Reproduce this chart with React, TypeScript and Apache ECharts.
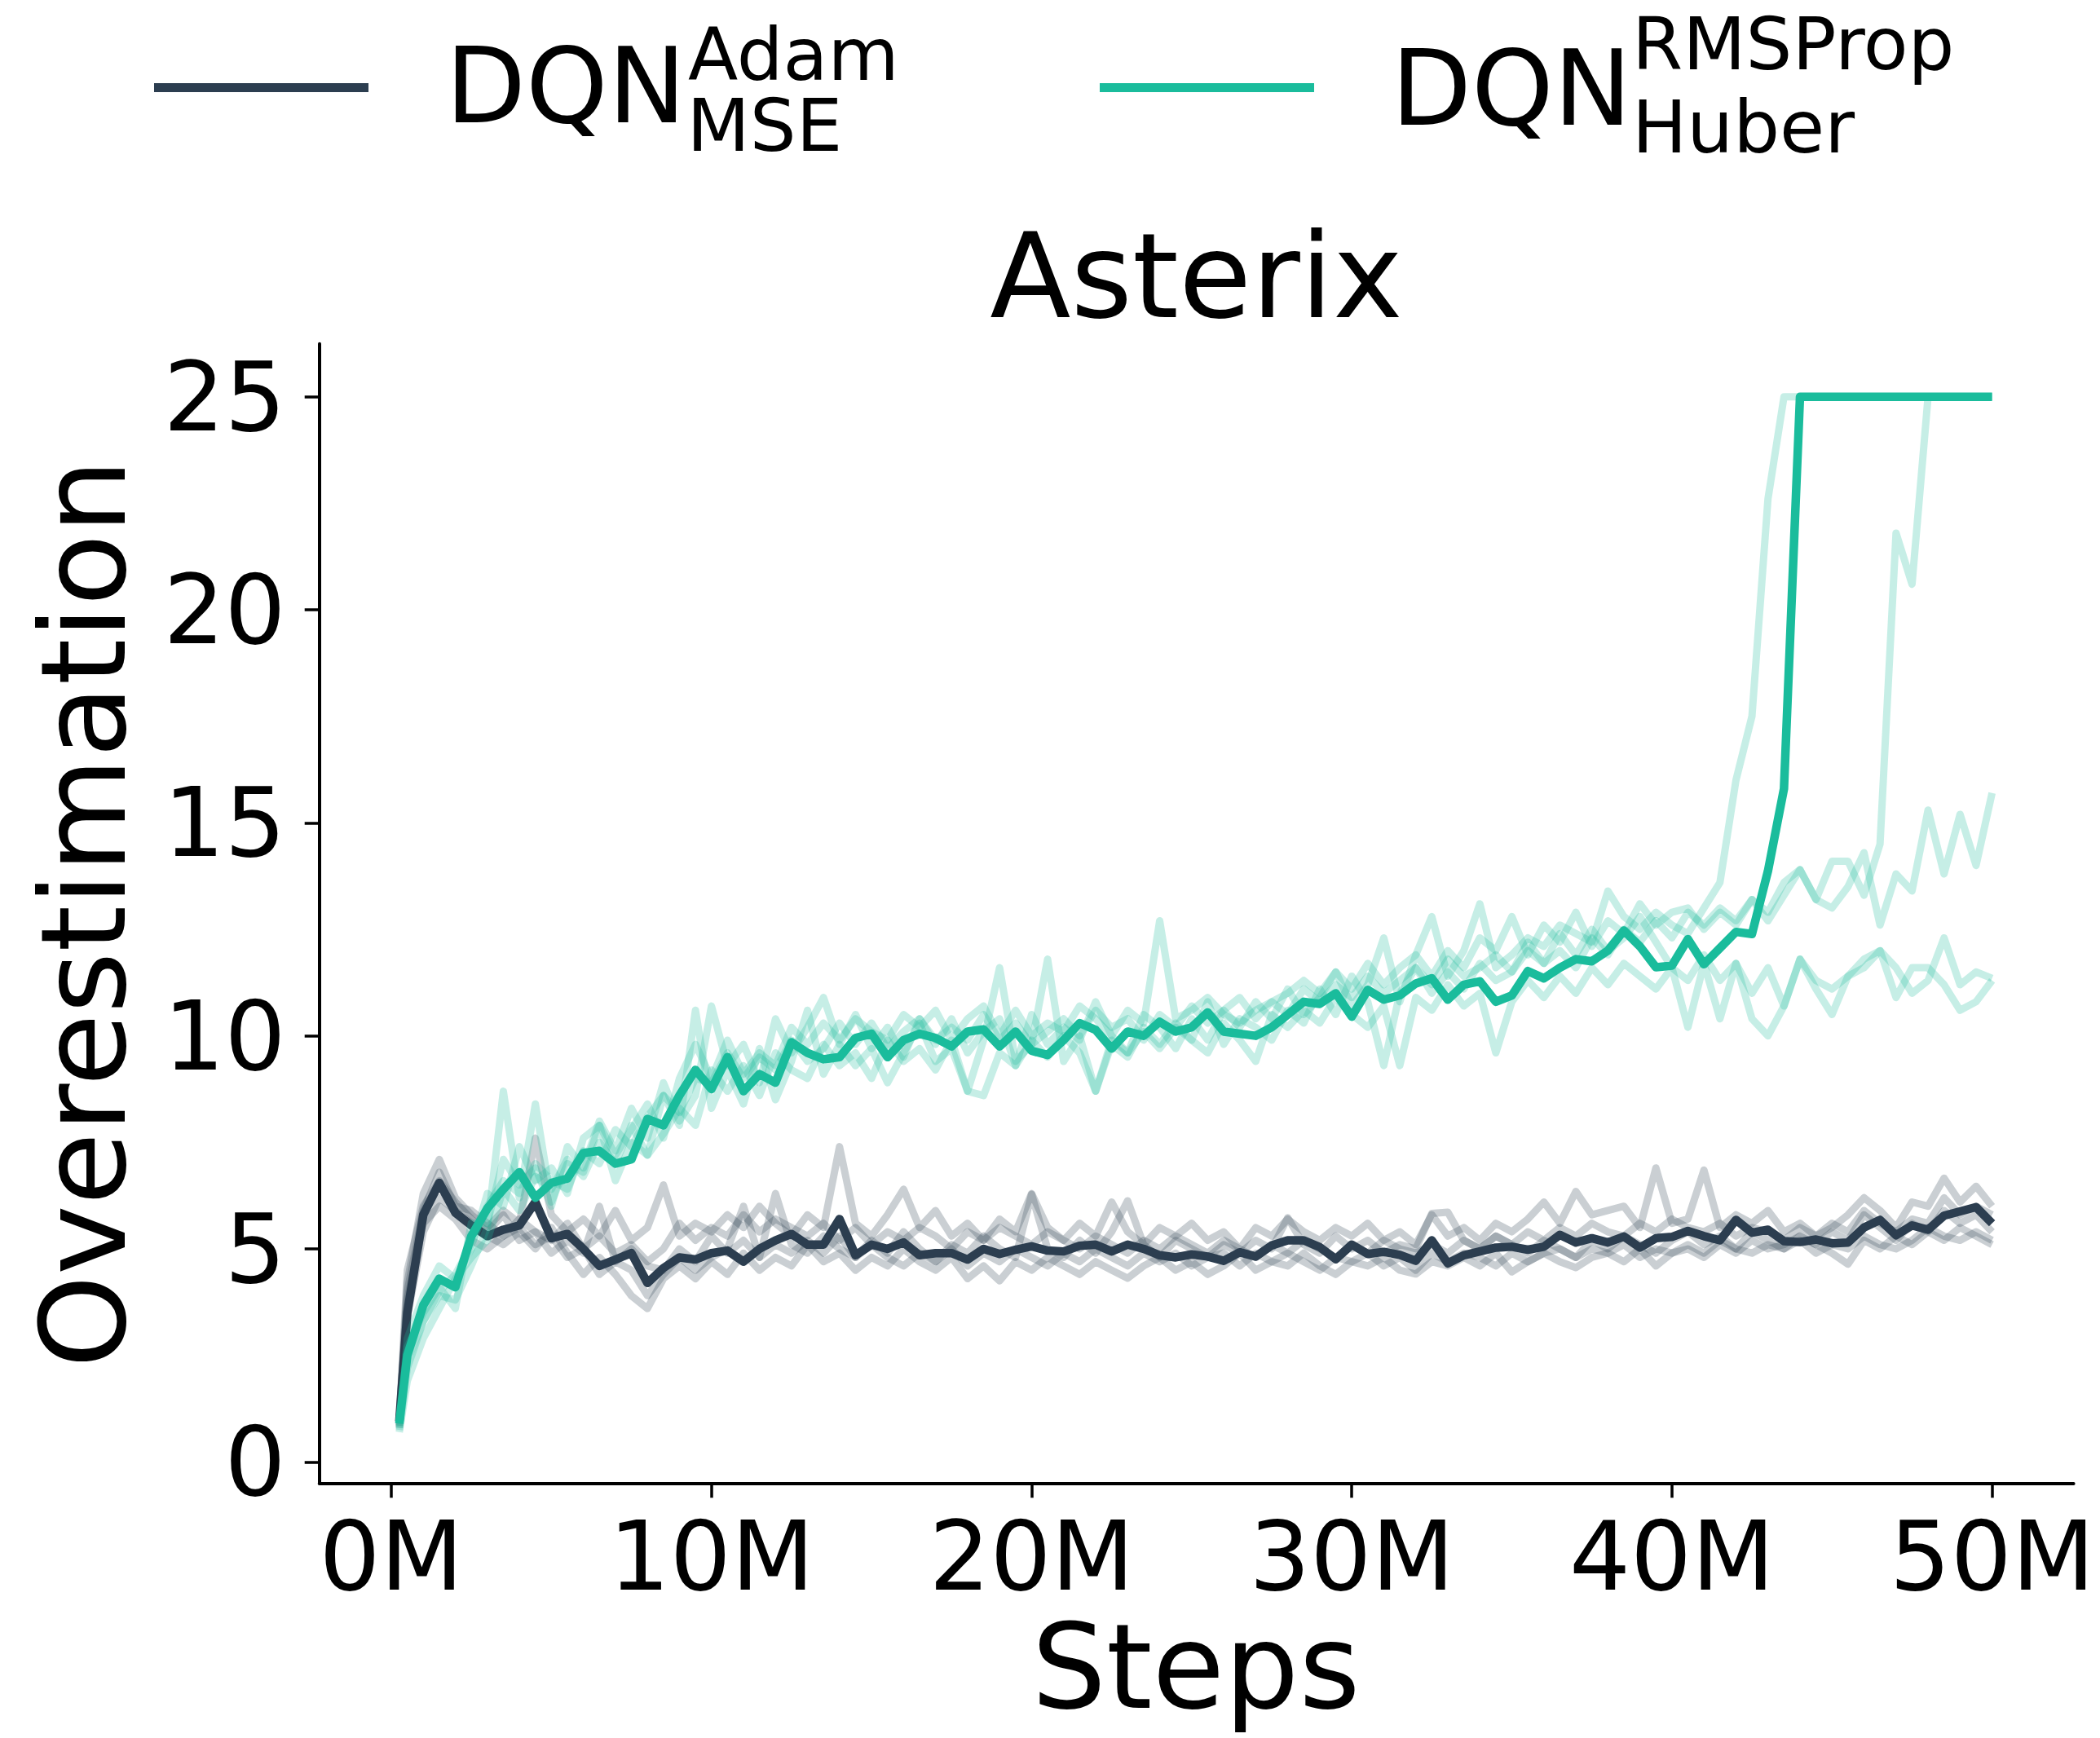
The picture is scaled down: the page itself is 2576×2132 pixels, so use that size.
import React, { useEffect, useRef } from "react";
import * as echarts from "echarts";

// ---------- data ----------
const STEPS_M: number[] = [0.25, ...Array.from({ length: 100 }, (_, i) => (i + 1) * 0.5)];
const X_TICKS = [0, 10, 20, 30, 40, 50];
const Y_TICKS = [0, 5, 10, 15, 20, 25];

const DARK_MEAN = [
  0.95, 3.5, 5.8, 6.55, 5.85, 5.55, 5.3, 5.45, 5.55, 6.1,
  5.25, 5.35, 5.0, 4.6, 4.75, 4.9, 4.2, 4.55, 4.8, 4.75,
  4.9, 4.96, 4.7, 5.0, 5.2, 5.35, 5.1, 5.1, 5.7, 4.85,
  5.1, 5.0, 5.15, 4.85, 4.9, 4.9, 4.75, 5.0, 4.88, 4.98,
  5.06, 4.96, 4.94, 5.07, 5.1, 4.94, 5.1, 5.0, 4.85, 4.8,
  4.87, 4.82, 4.72, 4.92, 4.82, 5.08, 5.2, 5.2, 5.04, 4.76,
  5.1, 4.88, 4.93, 4.86, 4.72, 5.2, 4.66, 4.85, 4.94, 5.03,
  5.05, 4.98, 5.05, 5.33, 5.15, 5.25, 5.15, 5.29, 5.03, 5.25,
  5.28, 5.42, 5.3, 5.2, 5.68, 5.38, 5.45, 5.18, 5.16, 5.22,
  5.13, 5.15, 5.5, 5.68, 5.32, 5.55, 5.45, 5.78, 5.88, 5.98,
  5.6,
];
const DARK_SEED_1 = [
  0.9, 4.2, 6.3, 7.1, 6.2, 5.8, 5.5, 5.9, 5.6, 7.6,
  5.8, 5.4, 5.7, 5.3, 5.9, 5.2, 5.5, 6.5, 5.3, 5.6,
  5.4, 5.8, 5.5, 6.0, 5.6, 5.3, 5.8, 5.5, 7.4, 5.6,
  5.3, 5.8, 6.4, 5.5, 5.9, 5.3, 5.6, 5.2, 5.7, 5.4,
  6.3, 5.5, 5.2, 5.6, 5.3, 6.1, 5.4, 5.1, 5.5, 5.3,
  5.6, 5.2, 5.4, 5.0, 5.5, 5.3, 5.7, 5.4, 5.2, 5.5,
  5.3, 5.6, 5.2, 5.4, 5.1, 5.8, 5.3, 5.5, 5.2, 5.6,
  5.4, 5.7, 6.1, 5.6, 6.35, 5.8, 5.9, 6.0, 5.5, 6.9,
  5.6, 5.7, 6.85, 5.5, 5.8, 5.6, 5.9, 5.4, 5.6, 5.3,
  5.5, 5.8, 6.2, 5.9, 5.5, 6.1, 6.0, 6.66, 6.1, 6.47,
  6.0,
];
const DARK_SEED_2 = [
  0.85, 3.4, 5.4, 6.2, 5.9, 5.6, 5.3, 5.1, 5.4, 5.0,
  5.5, 4.9, 4.4, 4.8, 4.4, 3.9, 3.6, 4.3, 4.6, 4.3,
  4.7, 4.4, 4.9, 4.5, 4.8, 4.6, 5.1, 4.7, 4.9, 4.5,
  4.8, 4.6, 5.0, 4.7, 4.5, 4.8, 4.3, 4.6, 4.25, 4.7,
  4.5, 4.8, 4.6, 4.4, 4.7, 4.5, 4.31, 4.6, 4.8, 4.5,
  4.7, 4.4, 4.6, 4.9, 4.5, 4.7, 4.6, 4.9, 4.6, 4.4,
  4.7, 4.6, 4.8, 4.5, 4.41, 4.7, 4.6, 4.8, 4.6, 4.9,
  4.46, 4.7, 4.9, 4.7, 4.56, 4.8, 4.9, 4.7, 5.0, 4.6,
  4.9, 5.0, 4.8, 5.1, 4.9, 5.2, 5.0, 5.1, 5.3, 5.1,
  4.9, 4.64, 5.2, 5.0, 5.3, 5.1, 5.4, 5.2, 5.5, 5.3,
  5.1,
];
const DARK_SEED_3 = [
  1.0, 4.5, 6.0, 6.6, 6.1, 5.7, 5.4, 5.8, 5.2, 5.4,
  4.9, 5.2, 4.9, 6.0, 4.7, 5.0, 4.6, 4.5, 5.0, 4.7,
  5.3, 4.9, 5.2, 4.8, 6.3, 5.1, 4.9, 5.3, 5.0, 4.8,
  5.2, 4.9, 5.4, 5.0, 4.7, 5.1, 4.9, 5.3, 5.0, 4.8,
  6.28, 5.0, 4.8, 5.2, 4.9, 5.4, 6.13, 5.1, 4.8, 5.2,
  5.0, 4.8, 5.1, 4.9, 5.2, 5.0, 5.73, 5.1, 4.9, 5.3,
  5.0, 5.2, 4.9, 5.1, 5.0, 5.83, 5.86, 5.2, 5.0, 5.3,
  5.1, 4.9, 5.2, 5.0, 4.8, 5.2, 5.0, 5.3, 5.1, 4.9,
  5.2, 5.4, 5.1, 5.3, 5.0, 5.4, 5.2, 5.0, 5.3, 5.1,
  5.4, 5.2, 5.8, 5.5, 5.2, 5.6, 5.4, 5.9, 5.6, 5.8,
  5.4,
];
const DARK_SEED_4 = [
  0.8, 3.8, 5.6, 6.0, 5.7, 5.2, 5.0, 5.3, 5.5, 5.1,
  5.3, 4.8, 5.0, 4.4, 4.7, 4.5, 3.9, 4.4, 4.8, 4.5,
  4.8, 5.0, 6.0, 4.8, 5.1, 4.9, 5.2, 4.9, 5.3, 4.8,
  5.1, 4.8, 4.6, 4.9, 4.7, 5.0, 4.6, 4.9, 4.7, 5.0,
  4.8, 4.6, 4.9, 4.7, 5.0, 4.8, 4.6, 4.9, 4.7, 4.9,
  4.6, 4.8, 4.9, 4.6, 4.9, 4.7, 4.9, 4.7, 4.5, 4.8,
  4.7, 4.9, 4.6, 4.8, 4.5, 4.9, 4.7, 4.9, 4.8, 4.6,
  4.9, 4.7, 4.9, 5.0, 4.8, 5.0, 4.9, 5.1, 4.8, 5.0,
  4.9, 5.1, 4.9, 5.2, 5.0, 4.9, 5.1, 5.0, 5.2, 4.9,
  5.1, 5.0, 5.3, 5.1, 5.0, 5.2, 5.5, 5.3, 5.2, 5.4,
  5.2,
];
const DARK_SEED_5 = [
  0.95, 4.0, 5.9, 6.8, 6.0, 5.9, 5.6, 5.3, 5.7, 5.4,
  5.2, 5.6, 5.0, 5.3, 4.9, 5.1, 4.7, 5.0, 5.6, 5.2,
  5.5, 5.3, 5.8, 5.4, 5.7, 5.5, 5.3, 5.6, 5.2, 5.5,
  5.1, 5.4, 5.2, 5.5, 5.3, 5.0, 5.4, 5.2, 5.5, 5.3,
  5.1, 5.4, 5.2, 5.0, 5.3, 5.1, 4.9, 5.2, 5.0, 5.3,
  5.1, 4.9, 5.2, 5.0, 4.8, 5.1, 4.9, 5.2, 5.0, 4.8,
  5.1, 4.9, 5.2, 5.0, 4.9, 5.1, 4.9, 5.2, 5.0, 5.3,
  5.1, 5.4, 5.2, 5.5, 5.3, 5.6, 5.4, 5.3, 5.6, 5.4,
  5.7, 5.5, 5.4, 5.6, 5.3, 5.5, 5.4, 5.2, 5.5, 5.3,
  5.6, 5.4, 5.9, 5.6, 5.4, 5.7, 5.6, 6.2, 5.8, 6.0,
  5.8,
];

const TEAL_MEAN = [
  0.9, 2.5, 3.68, 4.3, 4.1, 5.3, 5.95, 6.4, 6.8, 6.2,
  6.55, 6.65, 7.25, 7.3, 7.0, 7.1, 8.05, 7.9, 8.6, 9.2,
  8.75, 9.5, 8.7, 9.1, 8.9, 9.85, 9.6, 9.45, 9.5, 9.95,
  10.05, 9.5, 9.9, 10.05, 9.95, 9.75, 10.1, 10.15, 9.75, 10.1,
  9.65, 9.55, 9.9, 10.3, 10.14, 9.7, 10.1, 10.0, 10.33, 10.1,
  10.2, 10.55, 10.1, 10.05, 10.0, 10.2, 10.5, 10.8, 10.75, 11.0,
  10.45, 11.08, 10.85, 10.95, 11.23, 11.35, 10.85, 11.2, 11.28, 10.8,
  10.95, 11.52, 11.35, 11.6, 11.8, 11.75, 12.0, 12.47, 12.1, 11.61,
  11.65, 12.27, 11.68, 12.06, 12.44, 12.39, 13.87, 15.8, 25, 25,
  25, 25, 25, 25, 25, 25, 25, 25, 25, 25,
  25,
];
const TEAL_SEED_1 = [
  0.8, 2.9, 3.9, 4.6, 4.3, 5.0, 6.3, 6.0, 7.4, 6.6,
  6.9, 6.3, 7.6, 7.9, 7.2, 7.8, 8.4, 7.6, 9.0, 9.8,
  9.0, 9.9, 9.1, 9.6, 9.3, 10.2, 9.8, 10.3, 9.9, 10.4,
  10.1, 9.9, 10.5, 10.2, 10.6, 9.9, 10.4, 10.7, 10.0, 10.6,
  10.0, 10.3, 10.1, 10.7, 10.4, 10.0, 10.6, 10.3, 12.7, 10.4,
  10.6, 10.9, 10.5, 10.3, 10.6, 10.8, 11.0, 11.3, 11.0, 11.5,
  11.1, 11.7, 11.2, 11.6, 11.9, 12.8, 11.4, 12.0, 13.1, 11.6,
  11.9, 12.3, 12.1, 12.6, 12.4, 12.2, 13.4, 12.8, 12.5, 12.9,
  12.6, 12.4, 13.0, 13.6, 16.0, 17.5, 22.6, 25, 25, 25,
  25, 25, 25, 25, 25, 25, 25, 25, 25, 25,
  25,
];
const TEAL_SEED_2 = [
  0.75, 2.2, 3.3, 3.9, 3.8, 4.6, 5.5, 8.7, 6.2, 8.4,
  6.1, 7.0, 6.8, 7.9, 6.6, 7.5, 7.2, 8.6, 7.9, 10.6,
  8.3, 9.2, 8.4, 9.7, 8.5, 9.4, 10.6, 9.1, 9.8, 9.3,
  9.7, 8.9, 9.6, 10.3, 9.4, 9.7, 8.7, 9.9, 11.6, 9.4,
  9.8, 11.8, 9.4, 10.0, 8.7, 9.8, 9.5, 10.2, 9.8, 10.3,
  9.9, 10.8, 9.8, 10.4, 10.2, 9.9, 10.6, 10.3, 11.1, 10.5,
  11.4, 10.8, 9.3, 11.0, 11.6, 11.0, 11.5, 11.1, 11.7, 11.3,
  11.5, 12.2, 11.7, 12.0, 11.6, 12.3, 11.9, 12.5, 12.2, 12.7,
  12.3, 12.9, 12.6, 13.0, 12.7, 13.2, 12.9, 13.6, 13.9, 13.2,
  14.1, 14.1, 13.3, 14.5, 21.8, 20.6, 25, 25, 25, 25,
  25,
];
const TEAL_SEED_3 = [
  0.85, 2.7, 3.5, 4.1, 3.6, 5.6, 5.6, 7.1, 6.5, 6.9,
  6.0, 7.4, 6.9, 8.0, 7.3, 8.3, 7.6, 8.9, 8.0, 8.6,
  10.7, 9.3, 9.8, 8.9, 10.4, 9.6, 10.2, 10.9, 9.8, 10.5,
  9.7, 10.2, 9.5, 10.4, 9.8, 10.4, 9.6, 10.1, 10.4, 9.3,
  10.5, 9.8, 10.2, 9.9, 10.8, 10.0, 9.6, 10.5, 10.2, 9.7,
  10.4, 9.9, 10.6, 10.2, 10.8, 10.4, 11.1, 10.5, 10.9, 11.5,
  10.7, 11.2, 12.3, 10.8, 11.9, 11.4, 12.0, 11.6, 12.3, 12.0,
  12.8, 11.9, 12.6, 12.2, 12.9, 12.1, 12.7, 12.4, 13.1, 12.6,
  12.9, 13.0, 12.5, 12.9, 12.6, 13.2, 12.7, 13.3, 13.9, 13.2,
  13.0, 13.5, 14.3, 12.6, 13.8, 13.4, 15.3, 13.8, 15.2, 14.0,
  15.7,
];
const TEAL_SEED_4 = [
  0.7, 1.9, 2.9, 3.6, 4.3, 4.8, 5.2, 6.4, 5.9, 6.7,
  6.4, 7.1, 6.7, 7.5, 7.0, 7.9, 7.2, 7.7, 8.3, 7.9,
  9.2, 8.7, 9.3, 8.6, 9.6, 9.2, 9.0, 9.8, 9.3, 9.6,
  9.0, 9.9, 9.4, 9.7, 9.2, 9.9, 8.7, 8.6, 9.6, 9.3,
  9.9, 9.5, 10.0, 9.6, 8.7, 9.9, 9.6, 10.1, 9.7, 10.2,
  9.9, 9.6, 10.3, 9.9, 9.4, 10.5, 10.2, 10.6, 10.3, 10.9,
  10.5, 10.2, 10.7, 9.3, 10.9, 10.6, 11.2, 10.7, 11.0, 9.6,
  10.8, 11.3, 10.9, 11.4, 11.0, 11.6, 11.2, 11.7, 11.4, 11.1,
  11.6, 10.2, 11.7, 10.4, 11.7, 10.4, 10.0, 10.7, 11.8, 11.1,
  10.5, 11.4, 11.8, 12.0, 10.9, 11.6, 11.6, 11.2, 10.6, 10.8,
  11.3,
];
const TEAL_SEED_5 = [
  0.95, 2.4, 3.3, 4.0, 4.4, 5.1, 6.0, 6.6, 6.3, 7.0,
  6.6, 6.4, 7.3, 7.0, 7.8, 7.4, 8.1, 8.6, 8.2, 9.0,
  8.9, 9.6, 9.0, 9.5, 9.2, 9.9, 9.4, 9.7, 10.3, 9.8,
  10.3, 9.7, 10.1, 10.4, 9.9, 10.2, 9.9, 10.5, 9.9, 10.3,
  9.8, 10.1, 10.4, 10.0, 10.6, 10.2, 10.4, 9.9, 10.5, 10.2,
  10.7, 10.3, 10.6, 10.9, 10.4, 10.8, 10.5, 11.1, 10.8, 11.2,
  10.9, 11.4, 11.0, 11.3, 11.6, 11.2, 11.8, 11.4, 11.6, 11.9,
  11.5, 12.0, 11.7, 12.4, 11.9, 12.5, 12.0, 12.3, 12.8, 12.2,
  11.6, 11.3, 11.9, 11.3, 11.7, 11.0, 11.6, 10.7, 11.8, 11.3,
  11.1, 11.4, 11.6, 12.0, 11.6, 11.0, 11.3, 12.3, 11.2, 11.5,
  11.35,
];

const DARK_SEEDS = [DARK_SEED_1, DARK_SEED_2, DARK_SEED_3, DARK_SEED_4, DARK_SEED_5];
const TEAL_SEEDS = [TEAL_SEED_1, TEAL_SEED_2, TEAL_SEED_3, TEAL_SEED_4, TEAL_SEED_5];

// ---------- style ----------
const DARK = "#2c3e50";
const TEAL = "#1abc9c";
const FONT = "DejaVu Sans";

const W = 2576;
const H = 2132;
const GRID_LEFT = 391.7;
const GRID_TOP = 421.7;
const GRID_RIGHT_X = 2543.6;
const GRID_BOTTOM_Y = 1819.3;
const X_MIN = -2.248;
const X_MAX = 52.546;
const Y_MIN = -0.4975;
const Y_MAX = 26.244;

const SEED_WIDTH = 9;
const MAIN_WIDTH = 10.5;

function lineSeries(values: number[], color: string, opacity: number, width: number) {
  return {
    type: "line",
    data: STEPS_M.map((x, i) => [x, values[i]]),
    showSymbol: false,
    symbol: "none",
    silent: true,
    color,
    lineStyle: { color, width, opacity, join: "round" },
    emphasis: { disabled: true },
  };
}

function txt(text: string, x: number, y: number, size: number, align: string, rotation = 0) {
  return {
    type: "text",
    x,
    y,
    rotation,
    silent: true,
    style: {
      text,
      fontSize: size,
      fontFamily: FONT,
      fill: "#000",
      align,
      verticalAlign: "middle",
      textAlign: align,
      textVerticalAlign: "middle",
    },
  };
}

export default function App() {
  const ref = useRef<HTMLDivElement>(null);
  useEffect(() => {
    document.body.style.margin = "0";
    if (!ref.current) return;
    const chart = echarts.init(ref.current, null, { renderer: "svg" });
    const series: any[] = [
      ...DARK_SEEDS.map((v) => lineSeries(v, DARK, 0.25, SEED_WIDTH)),
      lineSeries(DARK_MEAN, DARK, 1, MAIN_WIDTH),
      ...TEAL_SEEDS.map((v) => lineSeries(v, TEAL, 0.25, SEED_WIDTH)),
      lineSeries(TEAL_MEAN, TEAL, 1, MAIN_WIDTH),
    ];
    const option: any = {
      animation: false,
      backgroundColor: "#fff",
      grid: {
        left: GRID_LEFT,
        top: GRID_TOP,
        width: GRID_RIGHT_X - GRID_LEFT,
        height: GRID_BOTTOM_Y - GRID_TOP,
        containLabel: false,
      },
      xAxis: {
        type: "value",
        min: X_MIN,
        max: X_MAX,
        axisLine: { show: true, onZero: false, lineStyle: { color: "#000", width: 4 } },
        axisTick: {
          show: true,
          customValues: X_TICKS,
          length: 18,
          lineStyle: { color: "#000", width: 3.5 },
        },
        axisLabel: {
          show: true,
          customValues: X_TICKS,
          formatter: (v: number) => `${v}M`,
          fontSize: 118,
          fontFamily: FONT,
          color: "#000",
          margin: 31,
        },
        splitLine: { show: false },
      },
      yAxis: {
        type: "value",
        min: Y_MIN,
        max: Y_MAX,
        axisLine: { show: true, onZero: false, lineStyle: { color: "#000", width: 4 } },
        axisTick: {
          show: true,
          customValues: Y_TICKS,
          length: 18,
          lineStyle: { color: "#000", width: 3.5 },
        },
        axisLabel: {
          show: true,
          customValues: Y_TICKS,
          formatter: (v: number) => `${v}`,
          fontSize: 118,
          fontFamily: FONT,
          color: "#000",
          margin: 41,
        },
        splitLine: { show: false },
      },
      graphic: [
        { type: "line", silent: true, shape: { x1: 189, y1: 107.6, x2: 452, y2: 107.6 }, style: { stroke: DARK, lineWidth: 11 } },
        { type: "line", silent: true, shape: { x1: 1349, y1: 107.6, x2: 1612, y2: 107.6 }, style: { stroke: TEAL, lineWidth: 11 } },
        txt("DQN", 546.5, 105.7, 128, "left"),
        txt("Adam", 844, 67, 89.6, "left"),
        txt("MSE", 842.5, 154, 89.6, "left"),
        txt("DQN", 1706.5, 108.7, 128, "left"),
        txt("RMSProp", 2002, 54, 89.6, "left"),
        txt("Huber", 2002, 156, 89.6, "left"),
        txt("Asterix", 1467.6, 338.1, 145, "center"),
        txt("Steps", 1467, 2045, 144, "center"),
        txt("Overestimation", 102.8, 1120.5, 145, "center", Math.PI / 2),
      ],
      series,
    };
    chart.setOption(option);
    return () => chart.dispose();
  }, []);
  return <div ref={ref} style={{ width: W, height: H }} />;
}
